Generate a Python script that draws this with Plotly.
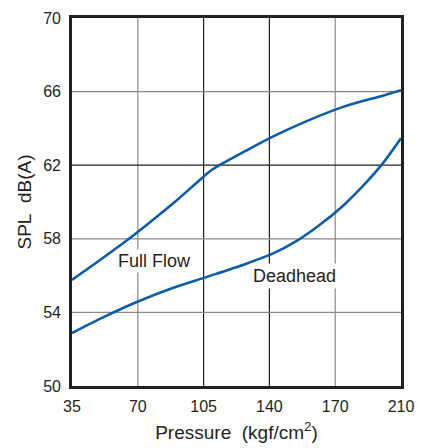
import plotly.graph_objects as go

# Axis ticks
x_tickvals = [35, 70, 105, 140, 175, 210]
x_ticktext = ["35", "70", "105", "140", "170", "210"]
y_tickvals = [50, 54, 58, 62, 66, 70]
x_grid_colors = ["#8a8a8a", "#231f20", "#231f20", "#8a8a8a"]
y_grid_colors = ["#8a8a8a", "#8a8a8a", "#231f20", "#8a8a8a"]

# Series
full_flow_x = [35, 49.9, 64.1, 76.5, 89.8, 103.1, 108.4, 114.8, 127.0, 142.3, 161.1, 179.2, 200.3, 210]
full_flow_y = [55.77, 56.85, 57.91, 58.90, 60.01, 61.21, 61.67, 62.08, 62.76, 63.58, 64.45, 65.17, 65.78, 66.08]

deadhead_x = [35, 52.6, 70.1, 88.2, 106.8, 127.0, 142.3, 153.2, 166.3, 179.2, 191.4, 200.3, 210]
deadhead_y = [52.88, 53.78, 54.59, 55.31, 55.93, 56.62, 57.22, 57.80, 58.72, 59.80, 61.05, 62.10, 63.47]

line_color = "#0b5cab"
text_color = "#231f20"
font_family = "Liberation Sans, Arial, sans-serif"

fig = go.Figure()
fig.add_trace(go.Scatter(x=full_flow_x, y=full_flow_y, mode="lines",
                         line=dict(color=line_color, width=2.6, shape="spline", smoothing=0.8),
                         name="Full Flow", showlegend=False, hoverinfo="skip"))
fig.add_trace(go.Scatter(x=deadhead_x, y=deadhead_y, mode="lines",
                         line=dict(color=line_color, width=2.6, shape="spline", smoothing=0.8),
                         name="Deadhead", showlegend=False, hoverinfo="skip"))

shapes = []
for xv, c in zip(x_tickvals[1:-1], x_grid_colors):
    shapes.append(dict(type="line", xref="x", yref="y", x0=xv, x1=xv, y0=50, y1=70,
                       line=dict(color=c, width=1.2), layer="below"))
for yv, c in zip(y_tickvals[1:-1], y_grid_colors):
    shapes.append(dict(type="line", xref="x", yref="y", x0=35, x1=210, y0=yv, y1=yv,
                       line=dict(color=c, width=1.2), layer="below"))

annotations = [
    dict(x=79.1, y=56.82, xref="x", yref="y", text="Full Flow", showarrow=False,
         font=dict(size=18, color=text_color, family=font_family),
         bgcolor="white", borderpad=1),
    dict(x=153.2, y=55.97, xref="x", yref="y", text="Deadhead", showarrow=False,
         font=dict(size=18, color=text_color, family=font_family),
         bgcolor="white", borderpad=2),
]

# the page body adds an 8px offset, so the figure is 8px smaller than the window
fig.update_layout(
    width=428, height=440,
    margin=dict(l=64, r=35, t=10, b=62),
    paper_bgcolor="white", plot_bgcolor="white",
    font=dict(family=font_family, color=text_color),
    shapes=shapes, annotations=annotations,
    xaxis=dict(range=[35, 210], tickvals=x_tickvals, ticktext=x_ticktext,
               showgrid=False, zeroline=False, automargin=False,
               showline=True, linecolor=text_color, linewidth=2.6, mirror=True,
               ticks="", ticklabelstandoff=4,
               tickfont=dict(size=16, color=text_color),
               title=dict(text="Pressure\u00a0\u00a0(kgf/cm<sup>2</sup>)",
                          font=dict(size=19, color=text_color), standoff=12)),
    yaxis=dict(range=[50, 70], tickvals=y_tickvals,
               showgrid=False, zeroline=False, automargin=False,
               showline=True, linecolor=text_color, linewidth=2.6, mirror=True,
               ticks="", ticklabelstandoff=5,
               tickfont=dict(size=16, color=text_color),
               title=dict(text="SPL\u00a0\u00a0dB(A)",
                          font=dict(size=19, color=text_color), standoff=7)),
)

fig.write_html("out.html")
